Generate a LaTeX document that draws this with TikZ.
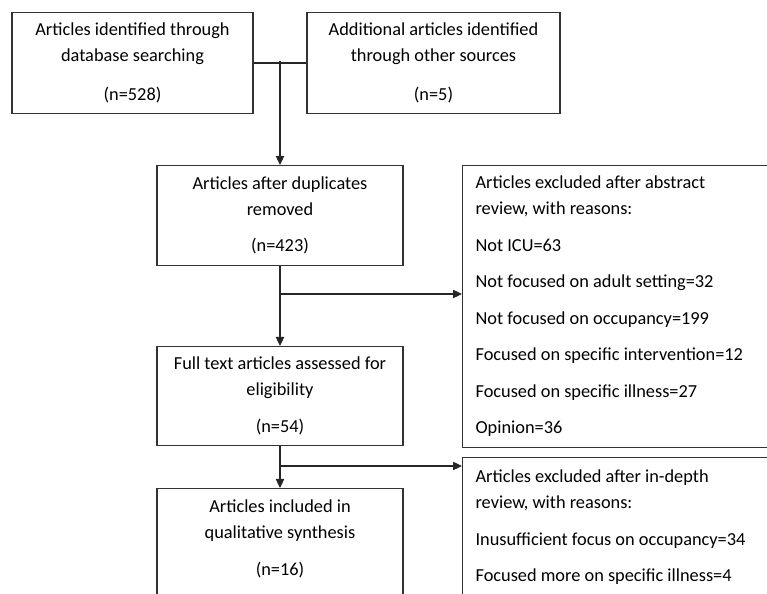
\documentclass[tikz,border=0pt]{standalone}
\usepackage{fontspec}
\setmainfont{Carlito}
\usetikzlibrary{arrows.meta}

\tikzset{
  box/.style={draw=black!80,line width=0.7pt,anchor=north,align=center,
    inner xsep=2pt,inner ysep=6.3pt,font=\fontsize{11}{15.6}\selectfont},
  reasons/.style={box,anchor=north west,align=flush left,text width=185pt,inner xsep=7.8pt},
  link/.style={draw=black!85,line width=0.7pt},
  arr/.style={link,-{Triangle[length=5.4pt,width=5pt]}}
}

\begin{document}
\begin{tikzpicture}[x=0.6pt,y=-0.6pt]
\useasboundingbox (0,0) rectangle (767,594);
\clip (0,0) rectangle (767,594);
% identification
\node[box,minimum width=144.6pt,minimum height=59.4pt] (database) at (132.5,12)
  {Articles identified through\\database searching\\[7.5pt](n=528)};
\node[box,minimum width=151.8pt,minimum height=59.4pt] (other) at (433.5,12)
  {Additional articles identified\\through other sources\\[7.5pt](n=5)};
% screening
\node[box,minimum width=147.6pt,minimum height=60pt] (dedup) at (280,165)
  {Articles after duplicates\\removed\\[6.3pt](n=423)};
\node[reasons,minimum height=167.4pt] (abstract) at (462,165)
  {Articles excluded after abstract\\review, with reasons:\\[6.3pt]
   Not ICU=63\\[6.3pt]
   Not focused on adult setting=32\\[6.3pt]
   Not focused on occupancy=199\\[6.3pt]
   Focused on specific intervention=12\\[6.3pt]
   Focused on specific illness=27\\[6.3pt]
   Opinion=36};
% eligibility
\node[box,minimum width=147.6pt,minimum height=59.4pt] (fulltext) at (280,346)
  {Full text articles assessed for\\eligibility\\[6.3pt](n=54)};
\node[reasons,inner ysep=7.5pt,text depth=75pt] (indepth) at (462,457)
  {Articles excluded after in-depth\\review, with reasons:\\[6.3pt]
   Inusufficient focus on occupancy=34\\[6.3pt]
   Focused more on specific illness=4};
% included
\node[box,minimum width=147.6pt,inner ysep=6.9pt,text depth=75pt] (included) at (280,488)
  {Articles included in\\qualitative synthesis\\[6.3pt](n=16)};
% connectors
\draw[link] (database.east) -- (other.west);
\coordinate (merge) at (280,61.5);
\draw[arr] (merge) -- (dedup);
\draw[arr] (dedup) -- (fulltext);
\coordinate (split1) at (280,294);
\draw[arr] (split1) -- (split1 -| abstract.west);
\draw[arr] (fulltext) -- (included);
\coordinate (split2) at (280,466);
\draw[arr] (split2) -- (split2 -| indepth.west);
\end{tikzpicture}
\end{document}
